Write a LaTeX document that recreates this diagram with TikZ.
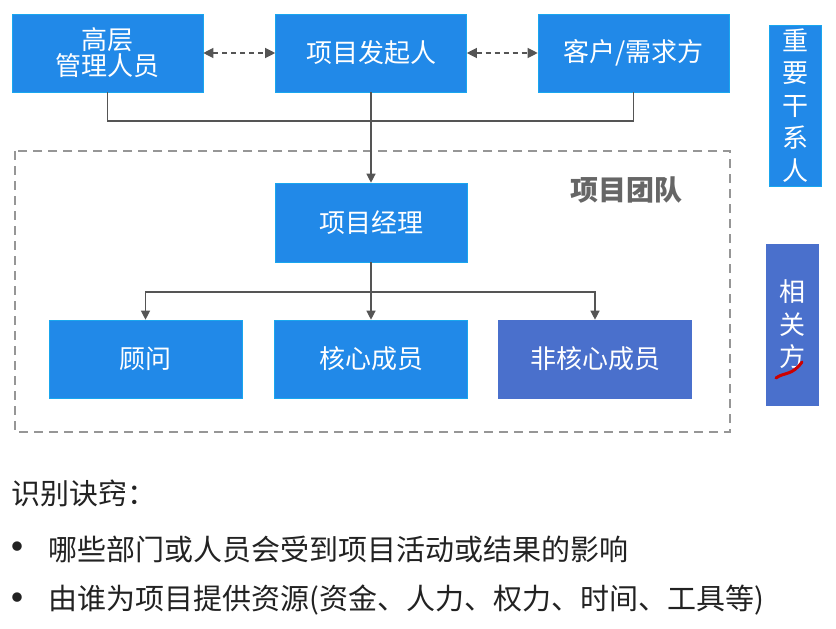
\documentclass[tikz,border=0pt]{standalone}
\usepackage{fontspec}
\newfontfamily\cjk{Noto Sans CJK SC}
\usetikzlibrary{arrows.meta}
\usetikzlibrary{positioning}

\definecolor{boxblue}{RGB}{33,137,232}
\definecolor{slateblue}{RGB}{74,112,204}
\definecolor{linegray}{RGB}{85,85,85}
\definecolor{teamgray}{RGB}{150,150,150}
\definecolor{textgray}{RGB}{34,34,34}

\tikzset{
  box/.style={fill=boxblue, draw=boxblue!75!cyan, line width=0.6pt, text=white,
    minimum width=191pt, minimum height=78pt, inner sep=0pt, align=center,
    font=\cjk\fontsize{26}{30}\selectfont},
  sidebox/.style={box, minimum width=52pt, minimum height=161pt,
    font=\cjk\fontsize{26}{32.5}\selectfont},
  link/.style={draw=linegray, line width=1.2pt},
  arrow/.style={link, -{Triangle[length=9pt, width=9pt]}},
  dotarrow/.style={link, dash pattern=on 5pt off 4pt, {Triangle[length=10pt, width=10pt]}-{Triangle[length=10pt, width=10pt]}},
  teambox/.style={draw=teamgray, line width=1.6pt, dash pattern=on 9pt off 6pt},
  note/.style={anchor=west, text=textgray, inner sep=0pt, font=\cjk\fontsize{29}{32}\selectfont},
  bulletdot/.style={text=textgray, inner sep=0pt, font=\cjk\bfseries\fontsize{34}{36}\selectfont}
}

\begin{document}
\begin{tikzpicture}[x=1pt, y=-1pt]
    \useasboundingbox[fill=white] (0,0) rectangle (836,629);

    % Project team frame
    \draw[teambox] (15,151) rectangle (730,432);
    \node[text=black!60, font=\cjk\bfseries\fontsize{28}{30}\selectfont] (teamlabel) at (626,190) {项目团队};

    % Top row
    \node[box] (exec) at (107.5,53) {高层\\[-4pt]管理人员};
    \node[box] (sponsor) at (371,53) {项目发起人};
    \node[box] (client) at (633.5,53) {客户/需求方};

    \draw[dotarrow] (exec) -- (sponsor);
    \draw[dotarrow] (sponsor) -- (client);

    % Joining line
    \coordinate (join) at (371,121);
    \draw[link] (exec) |- (join) -| (client);

    % Project manager
    \node[box, minimum width=192pt, minimum height=79pt] (pm) at (371,222.5) {项目经理};
    \draw[arrow] (sponsor) -- (pm);

    % Team members
    \node[box, minimum width=193pt] (advisor) at (145.5,359) {顾问};
    \node[box, minimum width=193pt] (core) at (371,359) {核心成员};
    \node[box, minimum width=193pt, fill=slateblue, draw=slateblue] (noncore) at (595,359) {非核心成员};

    \coordinate (split) at (371,292);
    \draw[arrow] (pm) -- (core);
    \draw[arrow] (split) -| (advisor);
    \draw[arrow] (split) -| (noncore);

    % Side labels
    \node[sidebox] (key) at (795,105.5) {重\\要\\干\\系\\人};
    \node[sidebox, fill=slateblue, draw=slateblue] (related) at (792.5,324.5) {相\\关\\方};
    \draw[red!80!black, line width=3pt, line cap=round] (776,378) .. controls (784,372) and (792,376) .. (802,362);

    % Notes
    \node[note] (title) at (11,493) {识别诀窍：};
    \node[bulletdot] (dot1) at (17,551) {•};
    \node[note] (tip1) at (48,549) {哪些部门或人员会受到项目活动或结果的影响};
    \node[bulletdot] (dot2) at (17,602) {•};
    \node[note] (tip2) at (48,600) {由谁为项目提供资源(资金、人力、权力、时间、工具等)};
\end{tikzpicture}
\end{document}
